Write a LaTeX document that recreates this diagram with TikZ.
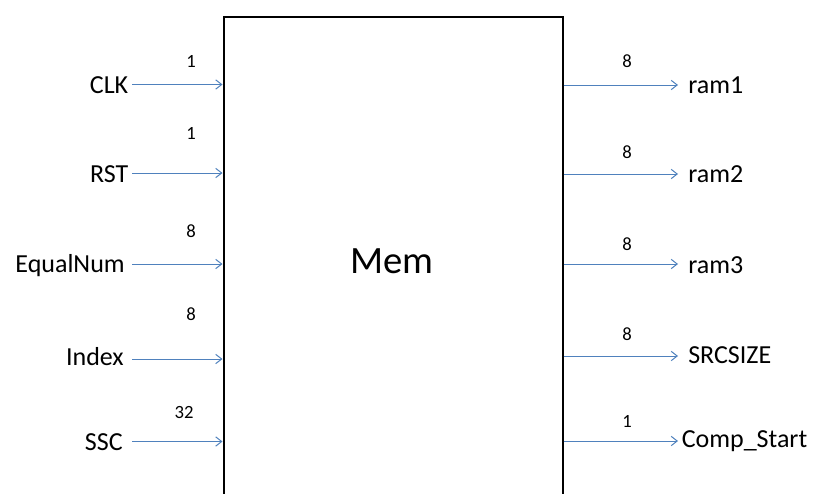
\documentclass[tikz,border=0pt]{standalone}
\usepackage{fontspec}
\setmainfont{Carlito}
\usetikzlibrary{arrows.meta}
\definecolor{sigblue}{HTML}{4F81BD}
\begin{document}
\begin{tikzpicture}[x=0.75pt,y=-0.75pt,
  sig/.style={draw=sigblue,line width=0.75pt,-{Straight Barb[length=4.5pt,width=7pt,line width=0.75pt]}},
  inlbl/.style={anchor=base east,inner sep=0pt,font=\fontsize{19.5}{22}\selectfont},
  outlbl/.style={anchor=base west,inner sep=0pt,font=\fontsize{19.5}{22}\selectfont},
  num/.style={anchor=base,inner sep=0pt,font=\fontsize{14}{16}\selectfont}]
\useasboundingbox (0,0) rectangle (816,493);
\clip (0,0) rectangle (816,493);
\node[draw,line width=1.5pt,minimum width=339*0.75pt,minimum height=520*0.75pt,anchor=north west,inner sep=0pt] (mem) at (222.5,16) {};
\node[font=\fontsize{29}{34}\selectfont,anchor=base,inner sep=0pt] (memlbl) at (392,273) {Mem};
% inputs
\coordinate (clkA) at (132,84.5);
\coordinate (rstA) at (132,173);
\coordinate (eqA) at (132,264);
\coordinate (idxA) at (132,359);
\coordinate (sscA) at (132,441.5);
\node[inlbl] (clk) at (128.5,93) {CLK};
\node[inlbl] (rst) at (128.5,182) {RST};
\node[inlbl] (eq) at (125,272) {EqualNum};
\node[inlbl] (idx) at (124,365) {Index};
\node[inlbl] (ssc) at (123,450) {SSC};
\draw[sig] (clkA) -- (clkA -| mem.west);
\draw[sig] (rstA) -- (rstA -| mem.west);
\draw[sig] (eqA) -- (eqA -| mem.west);
\draw[sig] (idxA) -- (idxA -| mem.west);
\draw[sig] (sscA) -- (sscA -| mem.west);
\node[num] (n1) at (191,67) {1};
\node[num] (n2) at (191,139) {1};
\node[num] (n3) at (191,237) {8};
\node[num] (n4) at (191,320) {8};
\node[num] (n5) at (184,418) {32};
% outputs
\coordinate (r1B) at (678,85);
\coordinate (r2B) at (678,174);
\coordinate (r3B) at (678,264);
\coordinate (srcB) at (678,356);
\coordinate (cmpB) at (678,441);
\draw[sig] (r1B -| mem.east) -- (r1B);
\draw[sig] (r2B -| mem.east) -- (r2B);
\draw[sig] (r3B -| mem.east) -- (r3B);
\draw[sig] (srcB -| mem.east) -- (srcB);
\draw[sig] (cmpB -| mem.east) -- (cmpB);
\node[outlbl] (ram1) at (688,93) {ram1};
\node[outlbl] (ram2) at (688,182) {ram2};
\node[outlbl] (ram3) at (688,273) {ram3};
\node[outlbl] (src) at (688,363) {SRCSIZE};
\node[outlbl] (cmp) at (681.5,447) {Comp\_Start};
\node[num] (m1) at (627,67) {8};
\node[num] (m2) at (627,158) {8};
\node[num] (m3) at (627,250) {8};
\node[num] (m4) at (627,340) {8};
\node[num] (m5) at (627,427) {1};
\end{tikzpicture}
\end{document}
